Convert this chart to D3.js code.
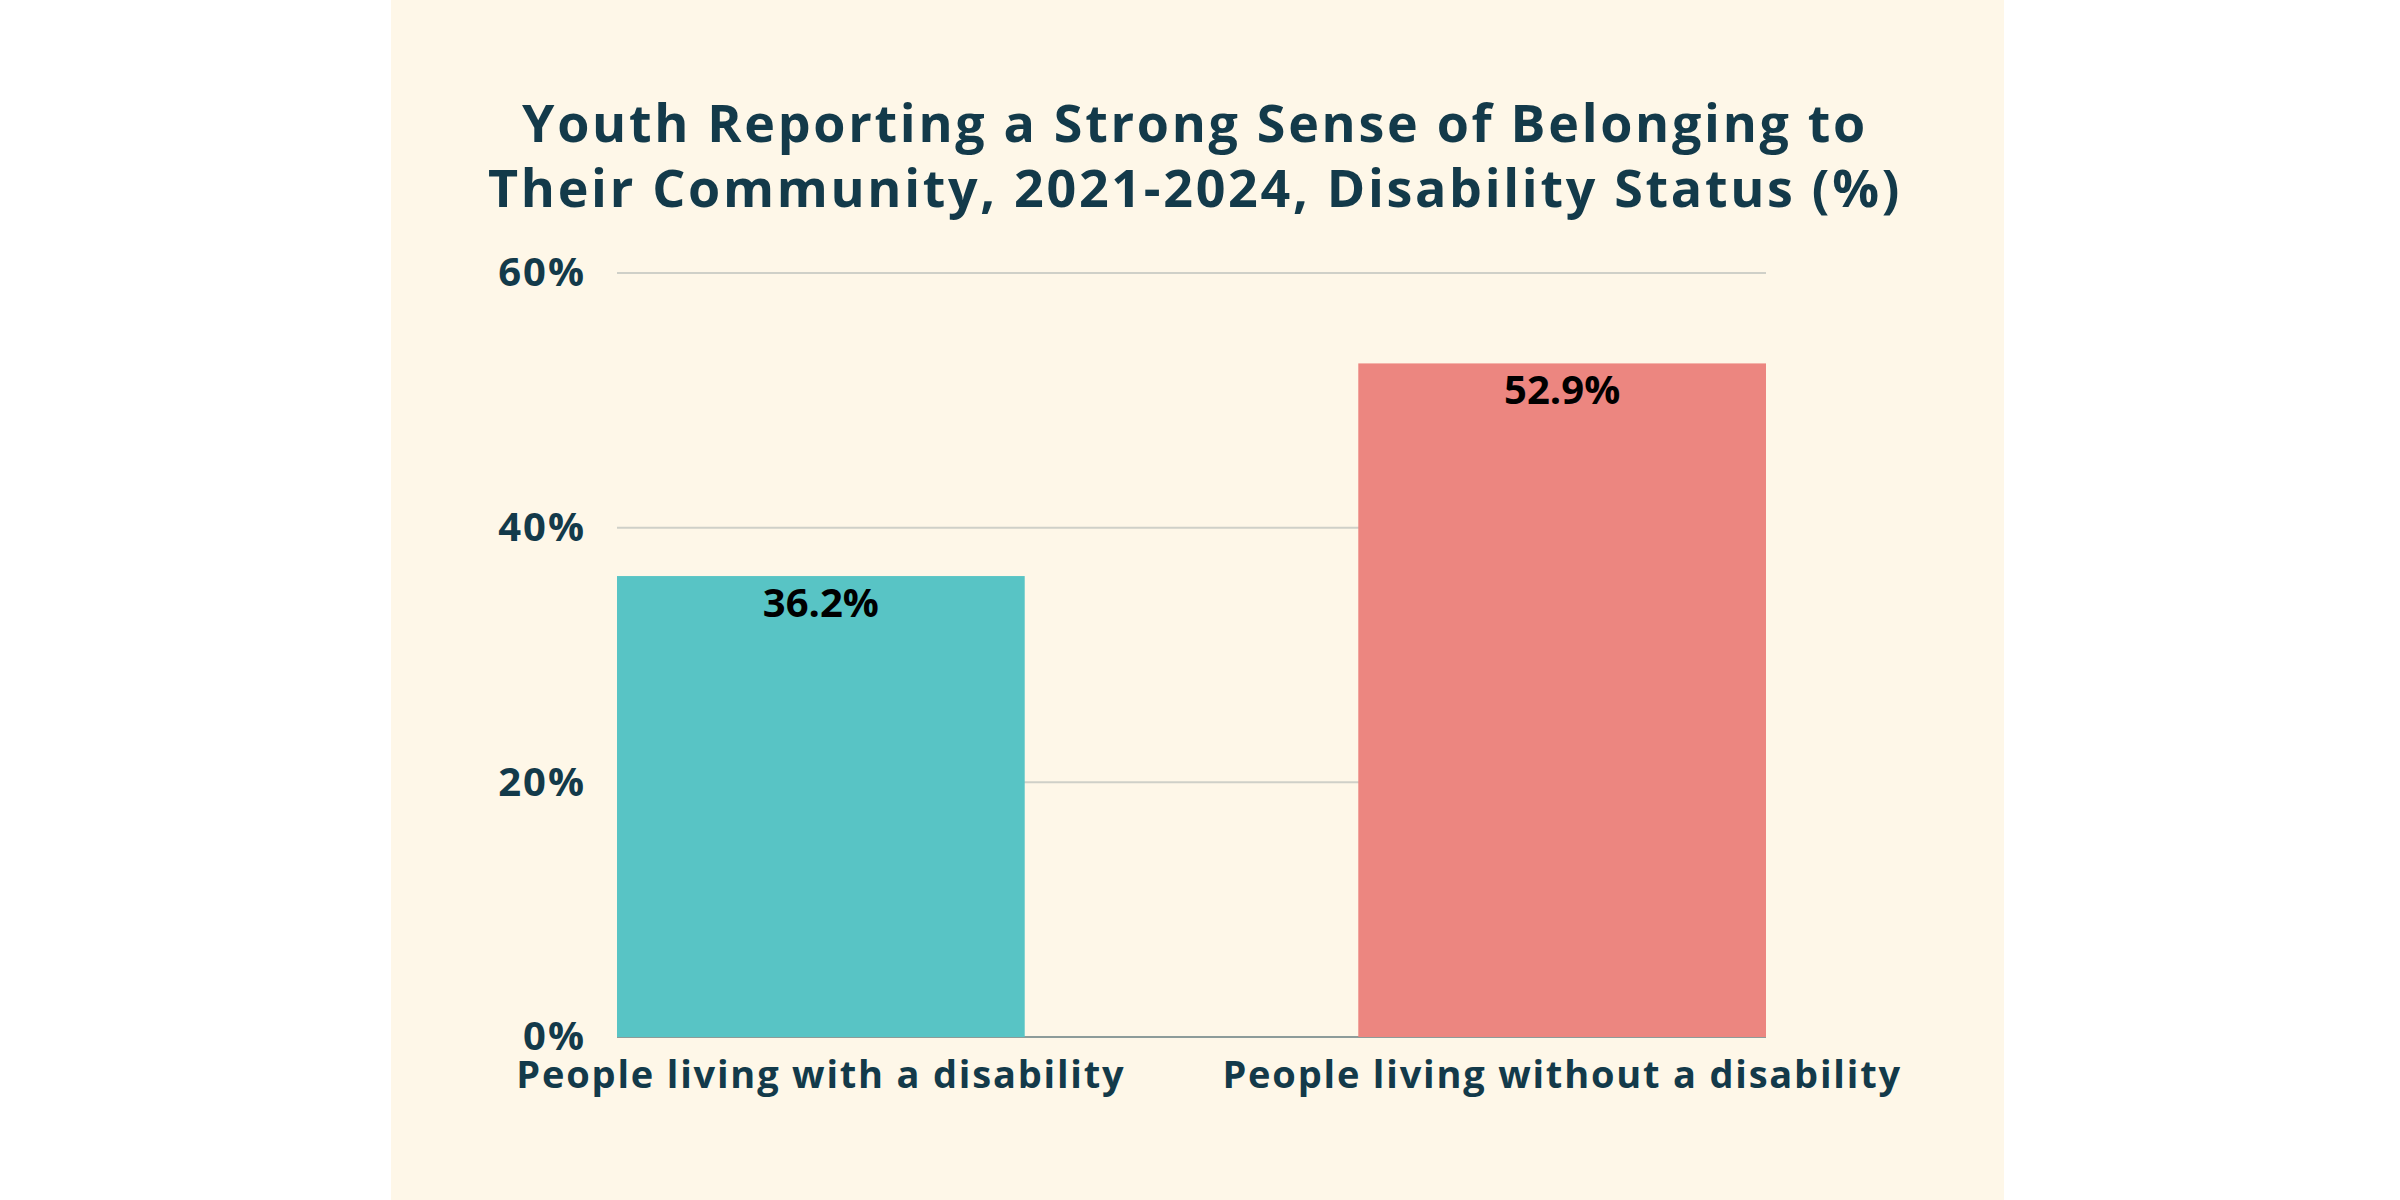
<!DOCTYPE html>
<html>
<head>
<meta charset="utf-8">
<script src="https://cdn.jsdelivr.net/npm/d3@7"></script>
<style>
  body { margin: 0; background: #ffffff; }
  text { font-family: "Open Sans", "Noto Sans", sans-serif; font-weight: 700; }
</style>
</head>
<body>
<div id="chart"></div>
<script>
// chart data
const categories = ["People living with a disability", "People living without a disability"];
const values = [36.2, 52.9];
const barColors = ["#58c4c5", "#ec8680"];
const yTicks = [0, 20, 40, 60];
const titleLines = [
  "Youth Reporting a Strong Sense of Belonging to",
  "Their Community, 2021-2024, Disability Status (%)"
];

const width = 2400;
const height = 1200;
const margin = { left: 617, right: 634, top: 273, bottom: 163 };
const dark = "#133a4a";

const svg = d3.select("#chart")
  .append("svg")
  .attr("width", width)
  .attr("height", height)
  .attr("viewBox", [0, 0, width, height]);

// cream panel behind the chart
svg.append("rect")
  .attr("x", 391)
  .attr("y", 0)
  .attr("width", 1613)
  .attr("height", height)
  .attr("fill", "#fef7e8");

// title
svg.append("g")
  .selectAll("text")
  .data(titleLines)
  .enter()
  .append("text")
  .attr("x", 1195)
  .attr("y", (d, i) => 142 + i * 65)
  .attr("text-anchor", "middle")
  .attr("font-size", "52px")
  .attr("letter-spacing", "2.7px")
  .attr("fill", dark)
  .text((d) => d);

const x = d3.scaleBand()
  .domain(categories)
  .range([margin.left, width - margin.right])
  .paddingInner(0.45)
  .paddingOuter(0);

const y = d3.scaleLinear()
  .domain([0, 60])
  .range([height - margin.bottom, margin.top]);

// gridlines
svg.append("g")
  .selectAll("line")
  .data(yTicks.filter((t) => t > 0))
  .enter()
  .append("line")
  .attr("x1", margin.left)
  .attr("x2", width - margin.right)
  .attr("y1", (d) => y(d))
  .attr("y2", (d) => y(d))
  .attr("stroke", "#cfd0c8")
  .attr("stroke-width", 2);

// baseline
svg.append("line")
  .attr("x1", margin.left)
  .attr("x2", width - margin.right)
  .attr("y1", y(0))
  .attr("y2", y(0))
  .attr("stroke", "#8d9c9a")
  .attr("stroke-width", 2);

// y axis labels
const yAxis = svg.append("g")
  .attr("transform", `translate(${margin.left}, 0)`)
  .call(d3.axisLeft(y).tickValues(yTicks).tickFormat((d) => d + "%").tickSize(0).tickPadding(31));
yAxis.select(".domain").remove();
yAxis.selectAll("text")
  .attr("font-size", "40px")
  .attr("letter-spacing", "2px")
  .attr("fill", dark)
  .attr("font-family", null);

// bars
svg.append("g")
  .selectAll("rect")
  .data(values)
  .enter()
  .append("rect")
  .attr("x", (d, i) => x(categories[i]))
  .attr("y", (d) => y(d))
  .attr("width", x.bandwidth())
  .attr("height", (d) => y(0) - y(d))
  .attr("fill", (d, i) => barColors[i]);

// value labels
svg.append("g")
  .selectAll("text")
  .data(values)
  .enter()
  .append("text")
  .attr("x", (d, i) => x(categories[i]) + x.bandwidth() / 2)
  .attr("y", (d) => y(d) + 41)
  .attr("text-anchor", "middle")
  .attr("font-size", "40px")
  .attr("fill", "#000000")
  .text((d) => d.toFixed(1) + "%");

// x axis labels
const xAxis = svg.append("g")
  .attr("transform", `translate(0, ${y(0)})`)
  .call(d3.axisBottom(x).tickSize(0).tickPadding(0));
xAxis.select(".domain").remove();
xAxis.selectAll("text")
  .attr("dy", null)
  .attr("y", 51)
  .attr("font-size", "38px")
  .attr("letter-spacing", "1.8px")
  .attr("fill", dark)
  .attr("font-family", null);
</script>
</body>
</html>
